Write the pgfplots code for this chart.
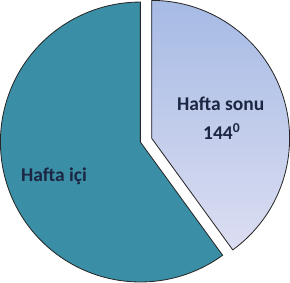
\documentclass[border=0pt]{standalone}
\usepackage{pgfplots}
\pgfplotsset{compat=1.18}
\usepackage{pgfplotstable}
\usepackage{fontspec}
\setmainfont{Carlito}
\definecolor{tealA}{RGB}{58,143,166}
\definecolor{lightTop}{RGB}{166,186,228}
\definecolor{lightBot}{RGB}{220,222,242}
\definecolor{labelc}{RGB}{28,38,66}
\pgfplotstableread{
label deg
ici 216
sonu 144
}\piedata
\pgfplotstablegetelem{0}{deg}\of\piedata \let\degA\pgfplotsretval
\pgfplotstablegetelem{1}{deg}\of\piedata \let\degB\pgfplotsretval
\pgfmathsetmacro{\sA}{90}
\pgfmathsetmacro{\eA}{90+\degA}
\pgfmathsetmacro{\sB}{90-\degB}
\pgfmathsetmacro{\eB}{90}
\begin{document}
\begin{tikzpicture}
\begin{axis}[width=290bp,height=282bp,scale only axis,hide axis,
  xmin=-144,xmax=146,ymin=-142,ymax=140,clip=false]
\addplot[fill=tealA,draw=black!85,line width=0.8bp,domain=\sA:\eA,samples=150,variable=\t]
  ({136*cos(t)},{136*sin(t)}) -- (axis cs:0,0) -- cycle;
\addplot[top color=lightTop,bottom color=lightBot,draw=black!85,line width=0.8bp,domain=\sB:\eB,samples=120,variable=\t]
  ({11+134*cos(t)},{3.6+134*sin(t)}) -- (axis cs:11,3.6) -- cycle;
\node[font=\bfseries\fontsize{19}{22}\selectfont,text=labelc] at (axis cs:78,37) {Hafta sonu};
\node[font=\bfseries\fontsize{19}{22}\selectfont,text=labelc] at (axis cs:79,10) {144\textsuperscript{0}};
\node[font=\bfseries\fontsize{19}{22}\selectfont,text=labelc] at (axis cs:-84,-33) {Hafta içi};
\end{axis}
\end{tikzpicture}
\end{document}
